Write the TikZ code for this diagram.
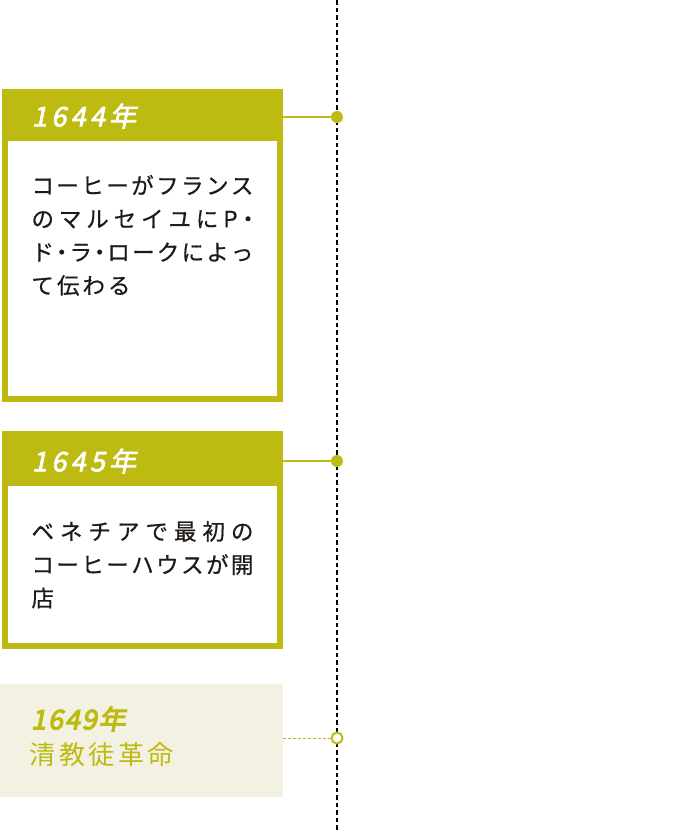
\documentclass[tikz,border=0pt]{standalone}
\usepackage{fontspec}
\newfontfamily\jpbody{Noto Sans CJK JP}[FakeBold=0.6]
\newfontfamily\jphead{Noto Sans CJK JP}[LetterSpace=16, FakeSlant=0.2, FakeBold=2.5]
\newfontfamily\jpyear{Noto Sans CJK JP}[LetterSpace=7, FakeSlant=0.2, FakeBold=4]
\newfontfamily\jptitle{Noto Sans CJK JP}[LetterSpace=13]
\definecolor{olive}{HTML}{BDBA12}
\definecolor{cream}{HTML}{F3F2E2}
\definecolor{ink}{HTML}{1E1A17}
% justified lines: every glyph spread over the line width
\makeatletter
\def\jsp#1{\ifx\relax#1\else\hfill#1\expandafter\jsp\fi}
\def\jspfirst#1{#1\jsp}
\def\jgap#1{\ifx\relax#1\else\hspace{3pt}#1\expandafter\jgap\fi}
\def\jgapfirst#1{#1\jgap}
\makeatother
\newcommand\jline[1]{\makebox[222pt][s]{\jspfirst#1\relax}}
\newcommand\jlast[1]{\jgapfirst#1\relax}
\newcommand\nk{\makebox[11pt]{・}}

\begin{document}
\begin{tikzpicture}[x=1pt, y=-1pt,
	every node/.style = {inner sep=0pt, outer sep=0pt},
	head/.style = {rectangle, fill=olive, anchor=north west,
		minimum width=281pt, minimum height=52pt},
	body/.style = {rectangle, draw=olive, line width=6pt, fill=white,
		anchor=north west, minimum width=275pt},
	note/.style = {rectangle, fill=cream, anchor=north west,
		minimum width=283pt, minimum height=113pt},
	year/.style = {anchor=west, text=white, font=\jphead\fontsize{27}{30}\selectfont},
	lines/.style = {anchor=north west, align=left, text=ink,
		font=\jpbody\fontsize{22.5}{33.3}\selectfont},
	dot/.style = {circle, fill=olive, minimum size=12pt},
	ring/.style = {circle, draw=olive, line width=2pt, fill=white, minimum size=11pt},
	link/.style = {draw=olive, line width=2pt},
	dlink/.style = {draw=olive, line width=1pt, dash pattern=on 3pt off 2pt},
	axis/.style = {draw=black, line width=2pt, dash pattern=on 4.5pt off 3pt}]
	\useasboundingbox (0,0) rectangle (677,831);
	% time axis
	\coordinate (axtop) at (337,0);
	\coordinate (axbot) at (337,831);
	\draw[axis] (axtop) -- (axbot);
	% 1644
	\node[body, minimum height=264pt] (body1) at (5,135) {};
	\node[head] (head1) at (2,89) {};
	\node[year] (year1) at (32,116) {1644年};
	\node[lines] (text1) at (31.5,175) {\jline{コーヒーがフランス}\\\jline{のマルセイユにP\nk}\\
		\jline{ド\nk ラ\nk ローク{に}{よ}{っ}}\\\jlast{て伝わる}};
	\node[dot] (dot1) at (337,117) {};
	\draw[link] (dot1 -| head1.east) -- (dot1);
	% 1645
	\node[body, minimum height=212pt] (body2) at (5,434) {};
	\node[head] (head2) at (2,434) {};
	\node[year] (year2) at (32,461) {1645年};
	\node[lines] (text2) at (31.5,521) {\jline{ベネチアで最初の}\\\jline{コーヒーハウスが開}\\\jlast{店}};
	\node[dot] (dot2) at (337,461) {};
	\draw[link] (dot2 -| head2.east) -- (dot2);
	% 1649
	\node[note] (note3) at (0,684) {};
	\node[anchor=west, text=olive, font=\jpyear\fontsize{27}{30}\selectfont] (year3) at (31,719) {1649年};
	\node[anchor=west, text=olive, font=\jptitle\fontsize{26}{30}\selectfont] (title3) at (30,755) {清教徒革命};
	\node[ring] (ring3) at (337,738) {};
	\draw[dlink] (ring3 -| note3.east) -- (ring3);
\end{tikzpicture}
\end{document}
